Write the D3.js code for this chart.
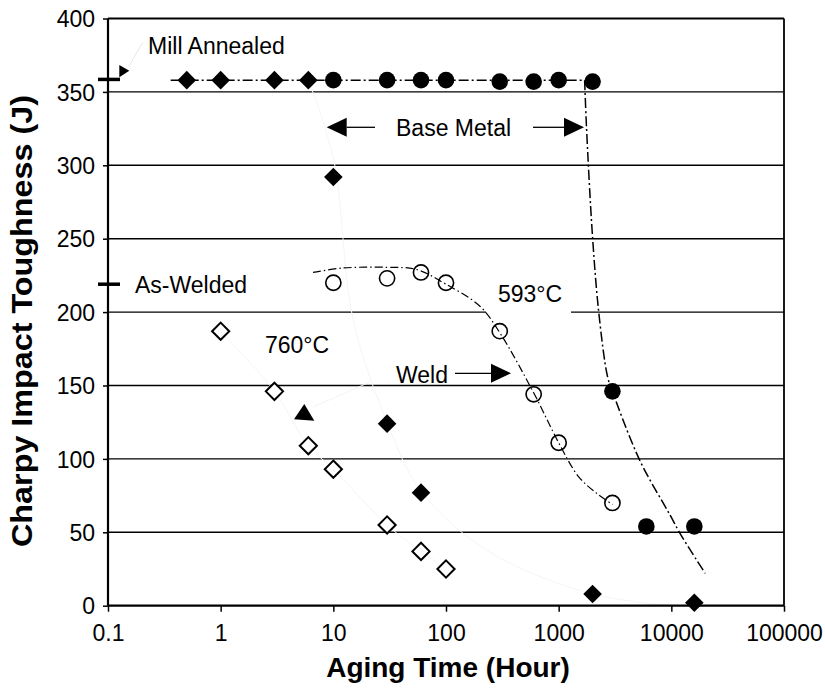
<!DOCTYPE html>
<html><head><meta charset="utf-8">
<script src="https://cdn.jsdelivr.net/npm/d3@7"></script>
<style>body{margin:0;background:#fff} text{font-family:Arial,"Liberation Sans",sans-serif;fill:#000}</style>
</head><body><svg id="c" width="825" height="689"></svg>
<script>
// ---------- data ----------
const yTicks = [0, 50, 100, 150, 200, 250, 300, 350, 400];
const xTicks = [0.1, 1, 10, 100, 1000, 10000, 100000];
const xTickLabels = ["0.1", "1", "10", "100", "1000", "10000", "100000"];

// Base metal aged at 760°C (filled diamonds)
const base760Hours = [0.5, 1, 3, 6, 10, 30, 60, 2000, 16000];
const base760J     = [358, 358, 358, 358, 292, 124, 77, 8, 2];
// Base metal aged at 593°C (filled circles)
const base593Hours = [10, 30, 60, 100, 300, 600, 1000, 2000, 3000, 6000, 16000];
const base593J     = [358, 358, 358, 358, 357, 357, 358, 357, 146, 54, 54];
// Weld aged at 760°C (open diamonds)
const weld760Hours = [1, 3, 6, 10, 30, 60, 100];
const weld760J     = [187, 146, 109, 93, 55, 37, 25];
// Weld aged at 593°C (open circles)
const weld593Hours = [10, 30, 60, 100, 300, 600, 1000, 3000];
const weld593J     = [220, 223, 227, 220, 187, 144, 111, 70];

// hand-drawn trend curves
const base593FlatHours = [0.36, 1700];
const base593FlatJ     = [358, 358];
const base593FitHours = [1700, 1766, 1995, 2275, 2716, 3000, 5250, 9700, 11900, 16800, 20000];
const base593FitJ     = [358, 326, 252, 199, 156, 146, 99, 62, 49.5, 31, 22];
const weld593FitHours = [6.6, 12, 30, 55, 100, 200, 300, 600, 1000, 1500, 2170, 3000];
const weld593FitJ     = [227, 230, 230.5, 229, 219, 204, 186, 145, 111, 88, 76.6, 69];
const base760FitHours = [6, 10, 15, 30, 60, 250, 2000, 10000];
const base760FitJ     = [358, 305, 195, 125, 78, 36, 8, 0];

const millAnnealedJ = 358.5;
const asWeldedJ = 219;

// ---------- chart ----------
const svg = d3.select("#c");
const x = d3.scaleLog().domain([0.1, 100000]).range([108, 784]);
const y = d3.scaleLinear().domain([0, 400]).range([605.7, 18.5]);

const zip = (a, b) => a.map((v, i) => [v, b[i]]);

// gridlines
svg.append("g").selectAll("line").data(yTicks.filter(d => d > 0 && d < 400)).join("line")
  .attr("x1", x(0.1)).attr("x2", x(100000))
  .attr("y1", d => y(d)).attr("y2", d => y(d))
  .attr("stroke", "#000").attr("stroke-width", 1.4);
// frame top/right
svg.append("line").attr("x1", x(0.1)).attr("x2", x(100000)).attr("y1", y(400)).attr("y2", y(400))
  .attr("stroke", "#000").attr("stroke-width", 2);
svg.append("line").attr("x1", x(100000)).attr("x2", x(100000)).attr("y1", y(400)).attr("y2", y(0))
  .attr("stroke", "#000").attr("stroke-width", 1.8);

// white box behind 593°C label (gap in gridline)
svg.append("rect").attr("x", 486).attr("y", y(200) - 4).attr("width", 85).attr("height", 8).attr("fill", "#fff");

const line = d3.line().x(d => x(d[0])).y(d => y(d[1])).curve(d3.curveCatmullRom.alpha(0.5));
const straight = d3.line().x(d => x(d[0])).y(d => y(d[1]));

// faint curves (760°C)
svg.append("path").attr("d", line(zip(base760FitHours, base760FitJ)))
  .attr("fill", "none").attr("stroke", "#f5f5f5").attr("stroke-width", 1);
svg.append("path").attr("d", line(zip(weld760Hours, weld760J)))
  .attr("fill", "none").attr("stroke", "#f5f5f5").attr("stroke-width", 1);
// faint leaders
svg.append("line").attr("x1", 129).attr("y1", 66).attr("x2", 143).attr("y2", 42).attr("stroke", "#e8e8e8");
svg.append("line").attr("x1", 313).attr("y1", 407).attr("x2", 370).attr("y2", 382).attr("stroke", "#f3f3f3");

// base metal 593 trend
const dash1 = "10,3,2,3";
svg.append("path").attr("d", straight(zip(base593FlatHours, base593FlatJ)))
  .attr("fill", "none").attr("stroke", "#000").attr("stroke-width", 1.5).attr("stroke-dasharray", dash1);
svg.append("path").attr("d", line(zip(base593FitHours, base593FitJ)))
  .attr("fill", "none").attr("stroke", "#000").attr("stroke-width", 1.5).attr("stroke-dasharray", dash1);

const diamond = r => `M0,${-r}L${r},0L0,${r}L${-r},0Z`;

// filled diamonds
svg.append("g").selectAll("path").data(zip(base760Hours, base760J)).join("path")
  .attr("transform", d => `translate(${x(d[0])},${y(d[1])})`)
  .attr("d", diamond(9.3)).attr("fill", "#000");
// filled circles
svg.append("g").selectAll("circle").data(zip(base593Hours, base593J)).join("circle")
  .attr("cx", d => x(d[0])).attr("cy", d => y(d[1])).attr("r", 8.3).attr("fill", "#000");
// open diamonds
svg.append("g").selectAll("path").data(zip(weld760Hours, weld760J)).join("path")
  .attr("transform", d => `translate(${x(d[0])},${y(d[1])})`)
  .attr("d", diamond(8.6)).attr("fill", "#fff").attr("stroke", "#000").attr("stroke-width", 2);
// open circles
svg.append("g").selectAll("circle").data(zip(weld593Hours, weld593J)).join("circle")
  .attr("cx", d => x(d[0])).attr("cy", d => y(d[1])).attr("r", 7.6)
  .attr("fill", "none").attr("stroke", "#000").attr("stroke-width", 1.6);
// weld 593 trend
svg.append("path").attr("d", line(zip(weld593FitHours, weld593FitJ)))
  .attr("fill", "none").attr("stroke", "#000").attr("stroke-width", 1.2)
  .attr("stroke-dasharray", "8,3,1.5,3");

// axes
const yAxis = svg.append("g").attr("transform", `translate(${x(0.1)},0)`)
  .call(d3.axisLeft(y).tickValues(yTicks).tickSize(5).tickFormat(d3.format("d")));
const xAxis = svg.append("g").attr("transform", `translate(0,${y(0)})`)
  .call(d3.axisBottom(x).tickValues(xTicks).tickSize(6).tickFormat((d, i) => xTickLabels[i]));
[yAxis, xAxis].forEach(a => {
  a.select(".domain").attr("stroke", "#000").attr("stroke-width", 2.2);
  a.selectAll(".tick line").attr("stroke", "#000").attr("stroke-width", 1.5);
  a.selectAll(".tick text").attr("font-size", 23).attr("font-family", "Arial, 'Liberation Sans', sans-serif").attr("fill", "#000");
});
yAxis.select(".domain").attr("d", `M0,${y(0)}V${y(400)}`);
xAxis.select(".domain").attr("d", `M${x(0.1)},0H${x(100000)}`);
yAxis.selectAll(".tick text").attr("x", -13).attr("dy", "0.36em");
xAxis.selectAll(".tick text").attr("y", 19).attr("dy", "0.71em");

// axis titles
svg.append("text").attr("x", 448).attr("y", 677).attr("text-anchor", "middle")
  .attr("font-size", 28).attr("font-weight", "bold").text("Aging Time (Hour)");
svg.append("text").attr("transform", "translate(32,321) rotate(-90)").attr("text-anchor", "middle")
  .attr("font-size", 29).attr("font-weight", "bold")
  .attr("textLength", 452).attr("lengthAdjust", "spacingAndGlyphs")
  .text("Charpy Impact Toughness (J)");

// markers on the y axis
svg.append("line").attr("x1", 98).attr("x2", 120).attr("y1", y(millAnnealedJ)).attr("y2", y(millAnnealedJ))
  .attr("stroke", "#000").attr("stroke-width", 3.5);
svg.append("path").attr("d", "M119.3,65L129.3,70.7L119.3,77.3Z").attr("fill", "#000");
svg.append("line").attr("x1", 98).attr("x2", 120).attr("y1", y(asWeldedJ)).attr("y2", y(asWeldedJ))
  .attr("stroke", "#000").attr("stroke-width", 3.5);

// labels
const lab = (t, px, py) => svg.append("text").attr("x", px).attr("y", py).attr("font-size", 23).text(t);
lab("Mill Annealed", 148, 54);
lab("Base Metal", 396, 136);
lab("As-Welded", 135, 293);
lab("593°C", 498, 302);
lab("760°C", 265, 353);
lab("Weld", 396, 383);

// arrows
const arrow = (x1, x2, yy, dir) => {
  svg.append("line").attr("x1", x1).attr("x2", x2).attr("y1", yy).attr("y2", yy).attr("stroke", "#000").attr("stroke-width", 1.3);
  const tip = dir > 0 ? x2 + 20 : x1 - 20;
  const base = dir > 0 ? x2 : x1;
  svg.append("path").attr("d", `M${tip},${yy}L${base},${yy - 9.5}L${base},${yy + 9.5}Z`).attr("fill", "#000");
};
arrow(346.7, 375, 127.3, -1);
arrow(533, 564, 127.3, 1);
arrow(455, 491, 373.3, 1);
// arrowhead near 760°C weld curve
svg.append("path").attr("d", "M304.3,404L314.3,420.7L294,419.3Z").attr("fill", "#000");
</script></body></html>
